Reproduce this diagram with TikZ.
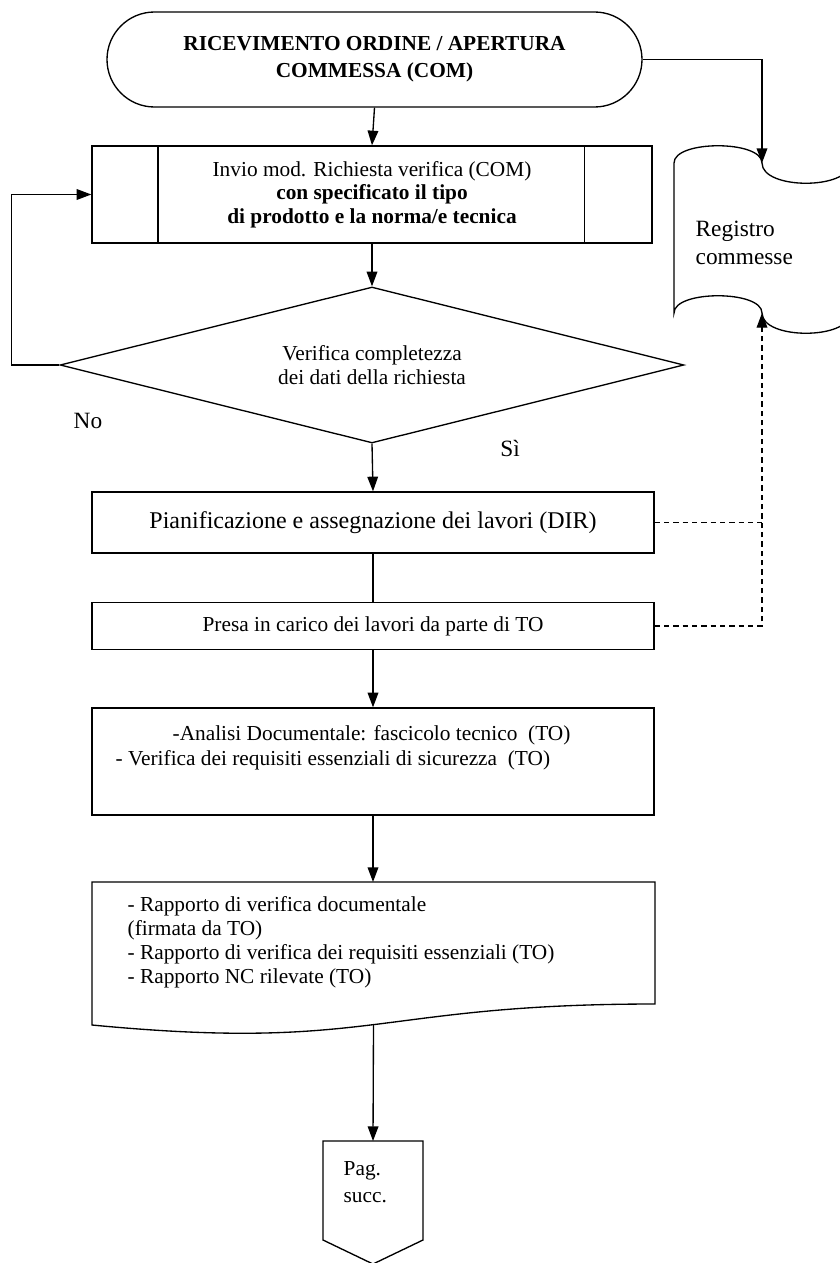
\documentclass[tikz,border=0pt]{standalone}
\usepackage{fontspec}
\setmainfont{Liberation Serif}
\usetikzlibrary{arrows.meta,shapes.geometric,shapes.misc}

\begin{document}
\begin{tikzpicture}[x=0.75pt,y=-0.75pt,line width=1pt,
  arr/.style={-{Triangle[length=11pt,width=8pt]}},
  dsh/.style={dash pattern=on 4pt off 3pt},
  proc/.style={draw,rectangle,minimum width=421.5pt,inner sep=0pt,align=center,
    font=\fontsize{16}{17.5}\selectfont},
  term/.style={draw,rounded rectangle,minimum width=401.25pt,minimum height=71.25pt,
    inner sep=0pt,align=center,font=\bfseries\fontsize{16}{20}\selectfont},
  dec/.style={draw,diamond,aspect=4,minimum width=468pt,minimum height=117pt,
    inner sep=0pt,align=center,font=\fontsize{16}{17.5}\selectfont},
  txt/.style={inner sep=0pt,align=left,font=\fontsize{16}{18}\selectfont},
  lbl/.style={inner sep=0pt,font=\fontsize{17.5}{21}\selectfont}]

  \useasboundingbox (0,0) rectangle (839,1263);

  % start
  \node[term] (ric) at (374.5,59.5) {RICEVIMENTO ORDINE / APERTURA\\COMMESSA (COM)};

  % request
  \node[proc,minimum width=420pt,minimum height=72.75pt] (inv) at (372,194.5)
    {Invio mod. Richiesta verifica (COM)\\\textbf{con specificato il tipo}\\\textbf{di prodotto e la norma/e tecnica}};
  \draw (inv.north west) ++(66.5,0) -- ++(0,97);
  \draw (inv.north east) ++(-68,0) -- ++(0,97);

  % check
  \node[dec] (ver) at (372,365) {Verifica completezza\\dei dati della richiesta};
  \node[lbl] (no) at (88,421) {No};
  \node[lbl] (si) at (510,448) {Sì};

  \node[proc,minimum height=45.75pt,font=\fontsize{18}{20}\selectfont] (pia) at (373,522.5)
    {Pianificazione e assegnazione dei lavori (DIR)};
  \node[proc,minimum height=35.25pt] (pre) at (373,626) {Presa in carico dei lavori da parte di TO};

  \node[proc,minimum height=80.25pt] (ana) at (373,761.5) {};
  \node[txt,anchor=base west] (ana1) at (172,740) {-Analisi Documentale: fascicolo tecnico \ (TO)};
  \node[txt,anchor=base west] (ana2) at (115,765) {- Verifica dei requisiti essenziali di sicurezza \ (TO)};

  % report (document)
  \coordinate (rapT) at (373,882);
  \draw (92,882) -- (655,882) -- (655,1004)
    .. controls (373.5,1004) and (373.5,1052) .. (92,1025) coordinate[pos=0.5] (rapB) -- cycle;
  \node[txt,anchor=north west] (rap) at (127,896)
    {- Rapporto di verifica documentale\\(firmata da TO)\\- Rapporto di verifica dei requisiti essenziali (TO)\\- Rapporto NC rilevate (TO)};

  % register
  \coordinate (regT) at (762,163);
  \coordinate (regB) at (762,313);
  \draw (674,313) -- (674,163) .. controls (674,140) and (762,140) .. (regT)
    .. controls (762,190) and (850,190) .. (850,163) -- (850,313)
    .. controls (850,340) and (762,340) .. (regB)
    .. controls (762,290) and (674,290) .. (674,313) -- cycle;
  \node[lbl,anchor=north west,align=left] (reg) at (695,220) {Registro\\commesse};

  % next page
  \coordinate (pagT) at (373,1141);
  \draw (323,1141) -- (423,1141) -- (423,1240) -- (373,1264) -- (323,1240) -- cycle;
  \node[txt,anchor=north west,font=\fontsize{16}{20}\selectfont] (pag) at (343,1161) {Pag.\\succ.};

  % connectors
  \draw[arr] (ric.south) -- (inv.north);
  \draw[arr] (ric.east) -| (regT);
  \draw[arr] (inv.south) -- (ver.north);
  \draw[arr] (ver.west) -- ++(-48,0) |- (inv.west);
  \draw[arr] (ver.south) -- (pia.north);
  \draw (pia.south) -- (pre.north);
  \draw[arr] (pre.south) -- (ana.north);
  \draw[arr] (ana.south) -- (rapT);
  \draw[arr] (rapB) -- (pagT);
  \draw[dsh] (pia.east) -- (pia.east -| regB);
  \draw[dsh,arr] (pre.east) -| (regB);
\end{tikzpicture}
\end{document}
